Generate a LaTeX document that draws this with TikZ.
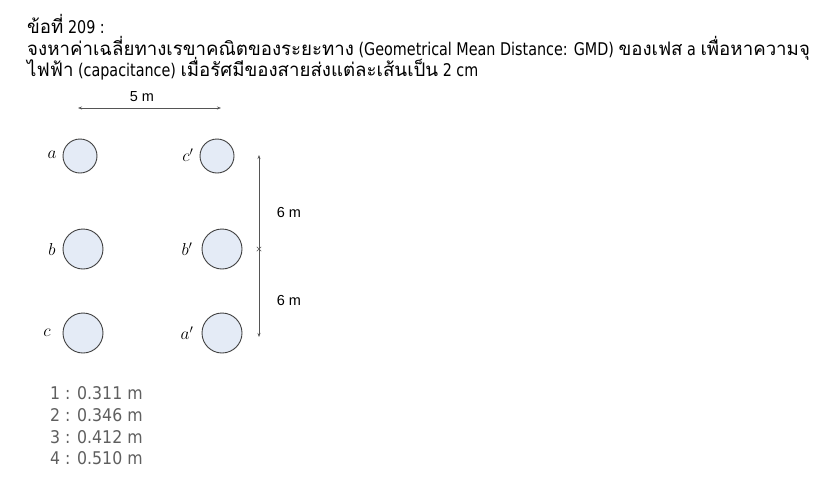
\documentclass[tikz,border=0pt]{standalone}
\usepackage{fontspec}
\setmainfont{DejaVu Sans}[FakeStretch=0.82]
\newfontfamily\ansfont{DejaVu Sans}[FakeStretch=0.9]
\newfontfamily\thaifont[Script=Thai,Scale=1.067]{Loma}
\newfontfamily\arialfont{Liberation Sans}
\usetikzlibrary{arrows.meta,shapes.misc}
\newcommand{\thtxt}[1]{{\thaifont #1}}
\definecolor{condfill}{HTML}{E4EBF6}
\definecolor{condline}{HTML}{404040}
\definecolor{dimgray}{HTML}{555555}
\definecolor{ansgray}{HTML}{5F5F5F}
\begin{document}
\begin{tikzpicture}[x=1pt,y=-1pt,
  titleline/.style={anchor=base west,inner sep=0pt,font=\fontsize{17.5}{20}\selectfont},
  ansline/.style={anchor=base west,inner sep=0pt,text=ansgray,font=\ansfont\fontsize{17.5}{20}\selectfont},
  cond/.style={circle,draw=condline,fill=condfill,line width=0.9pt,inner sep=0pt},
  small/.style={cond,minimum size=34pt},
  big/.style={cond,minimum size=40pt},
  lbl/.style={inner sep=0pt,font=\fontsize{17}{20}\selectfont},
  dimline/.style={draw=dimgray,line width=0.8pt,{Stealth[length=4pt,width=3pt]}-{Stealth[length=4pt,width=3pt]}},
  dimtext/.style={inner sep=0pt,font=\arialfont\fontsize{14.5}{17}\selectfont}]
\useasboundingbox[fill=white] (0,0) rectangle (837,477);
% title
\node[titleline] (t1) at (27,33) {\thtxt{ข้อที่} 209 :};
\node[titleline] (t2) at (27,55) {\thtxt{จงหาค่าเฉลี่ยทางเรขาคณิตของระยะทาง} (Geometrical Mean Distance: GMD) \thtxt{ของเฟส} a \thtxt{เพื่อหาความจุ}};
\node[titleline] (t3) at (27,76) {\thtxt{ไฟฟ้า} (capacitance) \thtxt{เมื่อรัศมีของสายส่งแต่ละเส้นเป็น} 2 cm};
% conductors
\node[small] (a) at (80,156) {};
\node[small] (cp) at (217,156) {};
\node[big] (b) at (83,249) {};
\node[big] (bp) at (222,249) {};
\node[big] (c) at (83,333) {};
\node[big] (ap) at (222,333) {};
% labels
\node[lbl] (la) at (52,155) {$a$};
\node[lbl] (lcp) at (188,155) {$c'$};
\node[lbl] (lb) at (52,249) {$b$};
\node[lbl] (lbp) at (187,249) {$b'$};
\node[lbl] (lc) at (47,333) {$c$};
\node[lbl] (lap) at (187,333) {$a'$};
% horizontal dimension
\coordinate (h1) at (78,108);
\coordinate (h2) at (221,108);
\draw[dimline] (h1) -- (h2);
\node[dimtext] (d5) at (142,97) {5 m};
% vertical dimension
\coordinate (v1) at (259,155);
\coordinate (v2) at (259,337);
\draw[dimline] (v1) -- (v2);
\node[draw=dimgray,cross out,minimum size=4pt,inner sep=0pt,line width=0.5pt] (vm) at (259,249) {};
\node[dimtext] (d6a) at (289,213) {6 m};
\node[dimtext] (d6b) at (289,301) {6 m};
% answers
\node[ansline] (o1) at (50,399) {1 : 0.311 m};
\node[ansline] (o2) at (50,421) {2 : 0.346 m};
\node[ansline] (o3) at (50,443) {3 : 0.412 m};
\node[ansline] (o4) at (50,464) {4 : 0.510 m};
\end{tikzpicture}
\end{document}
